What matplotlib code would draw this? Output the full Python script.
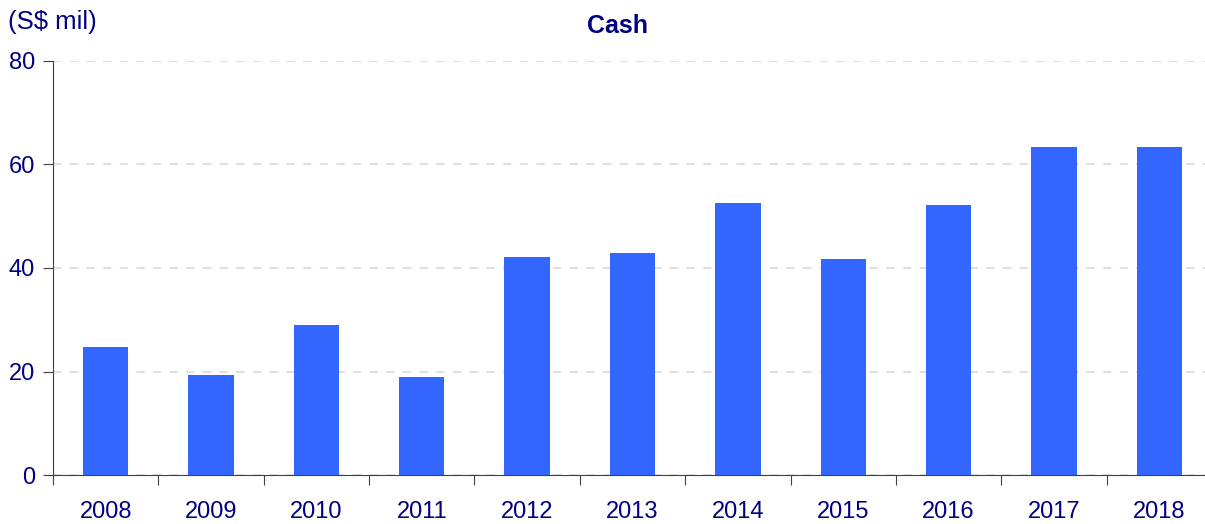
import matplotlib
matplotlib.use("Agg")
import matplotlib.pyplot as plt

years = ["2008", "2009", "2010", "2011", "2012", "2013", "2014", "2015", "2016", "2017", "2018"]
cash = [24.7, 19.3, 29.0, 18.9, 42.1, 42.9, 52.6, 41.7, 52.2, 63.4, 63.4]

plt.rcParams['font.family'] = ['Liberation Sans', 'DejaVu Sans']
navy = "#000080"

fig = plt.figure(figsize=(12.05, 5.24), dpi=100)
W, H = 1205, 524
ax = fig.add_axes([53 / W, 49 / H, (1212 - 53) / W, (475 - 61) / H])

x = list(range(len(years)))
ax.bar(x, cash, width=0.43, color="#3366FF", zorder=3)
ax.set_xlim(-0.5, len(years) - 0.5)
ax.set_ylim(0, 80)
ax.set_yticks([0, 20, 40, 60, 80])
ax.yaxis.grid(True, linestyle=(0, (5, 5)), color="#d9d9d9", linewidth=1.2, zorder=0)
ax.set_axisbelow(True)

ax.set_xticks([i - 0.5 for i in range(len(years) + 1)])
ax.set_xticklabels([])
ax.set_xticks(x, minor=True)
ax.set_xticklabels(years, minor=True)
ax.tick_params(axis='x', which='minor', length=0, pad=19, labelsize=17, labelcolor=navy)
ax.tick_params(axis='x', which='major', length=7, direction='out', color="#404040")
ax.tick_params(axis='y', length=7, direction='out', color="#404040", labelsize=17, labelcolor=navy, pad=6)

for s in ["top", "right"]:
    ax.spines[s].set_visible(False)
ax.spines["left"].set_color("#404040")
ax.spines["bottom"].set_color("#404040")

fig.text(8 / W, 1 - 22 / H, "(S$ mil)", fontsize=18.5, color=navy, va="center", ha="left")
fig.text(618 / W, 1 - 26 / H, "Cash", fontsize=18, fontweight="bold", color=navy, va="center", ha="center")

fig.savefig("out.png", dpi=100)
